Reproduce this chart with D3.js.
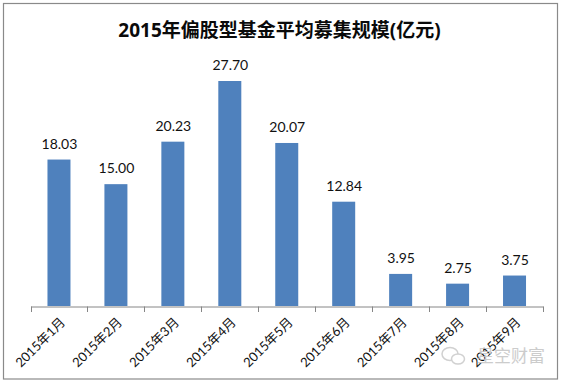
<!DOCTYPE html>
<html><head><meta charset="utf-8">
<script src="https://cdn.jsdelivr.net/npm/d3@7"></script>
<style>html,body{margin:0;padding:0;background:#fff}svg{display:block}</style></head>
<body><div id="c"></div>
<script>
const categories=["2015年1月","2015年2月","2015年3月","2015年4月","2015年5月","2015年6月","2015年7月","2015年8月","2015年9月"];
const values=[18.03,15.00,20.23,27.70,20.07,12.84,3.95,2.75,3.75];
const valueLabels=["18.03","15.00","20.23","27.70","20.07","12.84","3.95","2.75","3.75"];
const title="2015年偏股型基金平均募集规模(亿元)";
const watermark="星空财富";
const font="Lato,'Noto Sans CJK SC',sans-serif";
const W=561,H=383;
const svg=d3.select("#c").append("svg").attr("width",W).attr("height",H).style("font-family",font);
svg.append("rect").attr("x",3.5).attr("y",3.5).attr("width",554).attr("height",375.5).attr("fill","#fff").attr("stroke","#8a8a8a").attr("stroke-width",1.2);
const x=d3.scaleBand().domain(categories).range([30.5,543]).paddingInner(0).paddingOuter(0);
const y=d3.scaleLinear().domain([0,27.7]).range([306,81]);
const barW=23;
svg.selectAll("rect.bar").data(categories).join("rect").attr("class","bar")
 .attr("x",d=>x(d)+x.bandwidth()/2-barW/2).attr("width",barW)
 .attr("y",(d,i)=>y(values[i])).attr("height",(d,i)=>y(0)-y(values[i])).attr("fill","#4f81bd");
const ax=d3.axisBottom(x).tickSize(0).tickFormat("");
const g=svg.append("g").attr("transform","translate(0,306.5)").call(ax);
g.select(".domain").attr("stroke","#868686").attr("stroke-width",1);
const edges=[...categories.map(c=>x(c)),543];
svg.selectAll("line.tick").data(edges).join("line").attr("class","tick")
 .attr("x1",d=>Math.round(d)+.5).attr("x2",d=>Math.round(d)+.5).attr("y1",306.5).attr("y2",312).attr("stroke","#868686");
svg.selectAll("text.val").data(categories).join("text").attr("class","val")
 .attr("x",d=>x(d)+x.bandwidth()/2+.5).attr("y",(d,i)=>y(values[i])-11)
 .attr("text-anchor","middle").attr("font-size",14).attr("fill","#111").text((d,i)=>valueLabels[i]);
svg.selectAll("text.cat").data(categories).join("text").attr("class","cat")
 .attr("text-anchor","end").attr("font-size",13).attr("fill","#111")
 .attr("transform",d=>`translate(${x(d)+x.bandwidth()/2+7},${323}) rotate(-45)`).text(d=>d);
svg.append("text").attr("x",279.5).attr("y",37).attr("text-anchor","middle").attr("font-size",19).attr("font-weight","bold").attr("fill","#0a0a0a").style("font-family","'Open Sans','Noto Sans CJK SC',sans-serif").text(title);
const wm=svg.append("g").attr("opacity",.85);
wm.append("ellipse").attr("cx",450).attr("cy",354).attr("rx",8).attr("ry",6.5).attr("fill","none").attr("stroke","#c9c9c9").attr("stroke-width",1.5);
wm.append("ellipse").attr("cx",458).attr("cy",359).attr("rx",6.5).attr("ry",5).attr("fill","#fff").attr("stroke","#c9c9c9").attr("stroke-width",1.5);
wm.append("text").attr("x",477).attr("y",362).attr("font-size",17).attr("fill","#c4c4c4").text(watermark);
</script></body></html>
